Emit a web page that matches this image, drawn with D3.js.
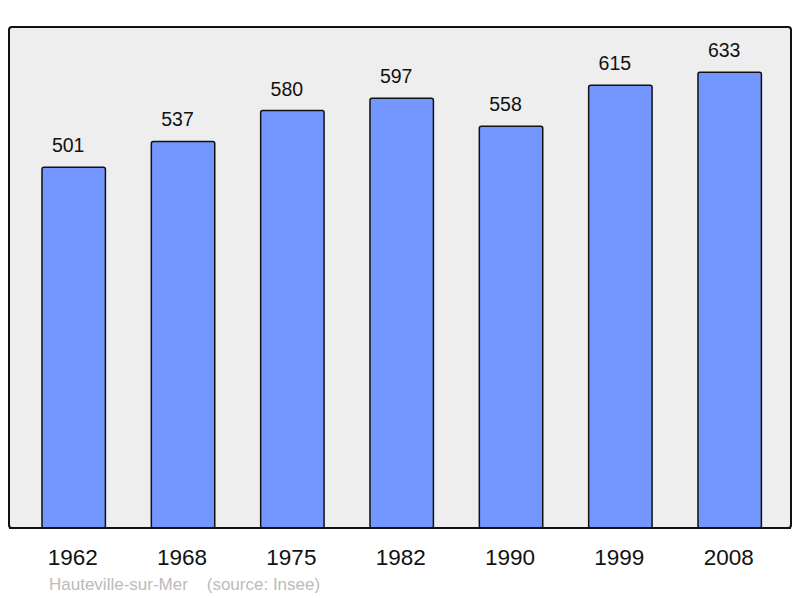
<!DOCTYPE html>
<html>
<head>
<meta charset="utf-8">
<script src="https://cdn.jsdelivr.net/npm/d3@7"></script>
<style>
  body { margin: 0; background: #fff; }
  text { font-family: "Liberation Sans", Arial, sans-serif; }
</style>
</head>
<body>
<svg id="chart" width="800" height="598"></svg>
<script>
// population data
const years = ["1962", "1968", "1975", "1982", "1990", "1999", "2008"];
const population = [501, 537, 580, 597, 558, 615, 633];
const town = "Hauteville-sur-Mer";
const source = "(source: Insee)";

const svg = d3.select('#chart');

// panel
const panel = { left: 9, top: 27, right: 791, bottom: 528 };

svg.append('rect')
    .attr('x', panel.left)
    .attr('y', panel.top)
    .attr('width', panel.right - panel.left)
    .attr('height', panel.bottom - panel.top)
    .attr('rx', 3)
    .attr('fill', '#eeeeee')
    .attr('stroke', '#111')
    .attr('stroke-width', 2);

let x = d3.scaleBand()
    .domain(years)
    .range([11, 792.4])
    .paddingInner(0.42)
    .paddingOuter(0.2835);

let y = d3.scaleLinear()
    .domain([0, 696])
    .range([panel.bottom, panel.top]);

let data = years.map((yr, i) => ({ year: yr, value: population[i] }));

svg.append('g')
    .selectAll('rect')
    .data(data)
    .enter()
    .append('rect')
    .attr('x', d => x(d.year))
    .attr('y', d => y(d.value))
    .attr('width', x.bandwidth())
    .attr('height', d => y(0) - y(d.value))
    .attr('rx', 2)
    .attr('fill', '#7396ff')
    .attr('stroke', '#111')
    .attr('stroke-width', 1.5);

// value labels (sit a little left of the bar centre in the original)
svg.append('g')
    .selectAll('text')
    .data(data)
    .enter()
    .append('text')
    .attr('x', d => x(d.year) + x.bandwidth() / 2 - 5.5)
    .attr('y', d => y(d.value) - 15)
    .attr('text-anchor', 'middle')
    .attr('font-size', 19.5)
    .attr('fill', '#111')
    .text(d => d.value);

// redraw bottom border over the bars
svg.append('line')
    .attr('x1', panel.left)
    .attr('x2', panel.right)
    .attr('y1', panel.bottom)
    .attr('y2', panel.bottom)
    .attr('stroke', '#111')
    .attr('stroke-width', 2);

// year axis
let xAxis = d3.axisBottom(x).tickSize(0).tickPadding(0);
let axisG = svg.append('g')
    .attr('transform', `translate(0, ${panel.bottom})`)
    .call(xAxis);
axisG.select('.domain').remove();
axisG.selectAll('text')
    .attr('dy', null)
    .attr('x', -1)
    .attr('y', 37)
    .attr('font-size', 22.5)
    .attr('font-family', '"Liberation Sans", Arial, sans-serif')
    .attr('fill', '#111');

// footer
svg.append('text')
    .attr('x', 49)
    .attr('y', 590)
    .attr('font-size', 17)
    .attr('fill', '#bbbbbb')
    .attr('xml:space', 'preserve')
    .style('white-space', 'pre')
    .text(town + "    " + source);
</script>
</body>
</html>
